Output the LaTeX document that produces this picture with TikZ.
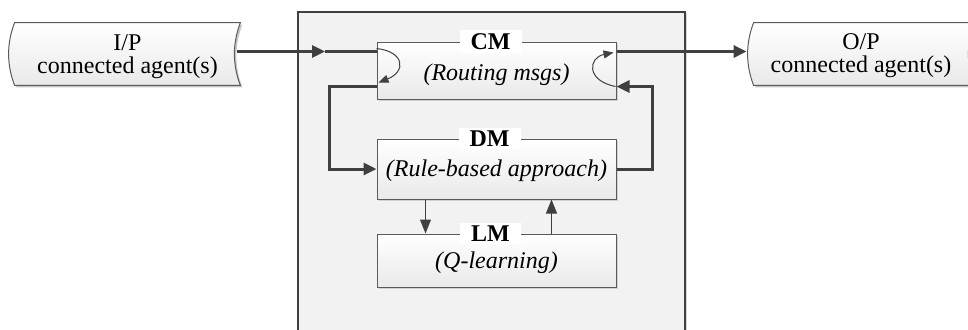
\documentclass[tikz,border=0pt]{standalone}
\usepackage{fontspec}
\setmainfont{Liberation Serif}
\usetikzlibrary{calc,arrows.meta,shadows}

\definecolor{linegray}{HTML}{404040}
\definecolor{panelgray}{HTML}{F2F2F2}
\definecolor{boxedge}{HTML}{5A5A5A}
\definecolor{boxlow}{HTML}{E9E9E9}

% stored-data outline: concave curves on both short sides
\newcommand\drawstoreddata[2]{%
  \path[#2] (#1.north west)
    .. controls ($(#1.north west)!0.333!(#1.south west)+(-8,0)$)
            and ($(#1.north west)!0.667!(#1.south west)+(-8,0)$) .. (#1.south west)
    -- (#1.south east)
    .. controls ($(#1.north east)!0.667!(#1.south east)+(-8,0)$)
            and ($(#1.north east)!0.333!(#1.south east)+(-8,0)$) .. (#1.north east)
    -- cycle;}

\begin{document}
\begin{tikzpicture}[x=0.5pt,y=-0.5pt,
  font=\fontsize{12}{11.5}\selectfont,
  panel/.style={rectangle, draw=linegray, line width=0.9pt, fill=panelgray,
    minimum width=193.5pt, minimum height=167pt, inner sep=0pt,
    drop shadow={shadow xshift=1pt, shadow yshift=-1pt, fill=black!25, opacity=0.6}},
  module/.style={rectangle, draw=boxedge, line width=0.5pt, top color=white,
    bottom color=boxlow, minimum width=119.5pt, inner sep=0pt,
    drop shadow={shadow xshift=1pt, shadow yshift=-1pt, fill=black!30, opacity=0.5}},
  agent/.style={rectangle, inner sep=0pt, minimum height=31pt},
  agenttext/.style={align=center, inner sep=0pt},
  title/.style={fill=white, font=\fontsize{12}{14}\selectfont\bfseries,
    inner xsep=5.5pt, inner ysep=1.5pt},
  body/.style={font=\fontsize{12}{14}\selectfont\itshape, inner sep=0pt},
  thickline/.style={draw=linegray, line width=1.5pt},
  thickarrow/.style={thickline, -{Triangle[length=6.5pt,width=6pt]}},
  thinarrow/.style={draw=linegray, line width=0.5pt, -{Triangle[length=7pt,width=5.5pt]}},
  looparrow/.style={draw=linegray, line width=0.5pt, -{Triangle[length=5pt,width=4pt]}},
]
\useasboundingbox (0,0) rectangle (968,329);
\clip (0,0) rectangle (968,329);

% agent containers
\node[agent, minimum width=112.5pt] (ip) at (127.5,54) {};
\node[agent, minimum width=110pt] (op) at (864,54) {};
\foreach \ag in {ip,op}{
  \drawstoreddata{\ag}{fill=black!22, transform canvas={xshift=1pt,yshift=-1pt}}
  \drawstoreddata{\ag}{draw=boxedge, line width=0.5pt, top color=white, bottom color=boxlow}
}
\node[agenttext] (iptext) at ($(ip.center)+(0,3)$) {I/P\\connected agent(s)};
\node[agenttext] (optext) at ($(op.center)+(-3,2)$) {O/P\\connected agent(s)};

% agent core panel
\node[panel] (core) at (491.5,179) {};

% modules
\node[module, minimum height=28.5pt] (cm) at (496.5,70.5) {};
\node[module, minimum height=30pt] (dm) at (496.5,169) {};
\node[module, minimum height=26.5pt] (lm) at (496.5,260.5) {};

\node[body] (cmtext) at ($(cm.center)+(0,4)$) {(Routing msgs)};
\node[body] (dmtext) at ($(dm.center)+(0,2)$) {(Rule-based approach)};
\node[body] (lmtext) at ($(lm.center)+(0,2)$) {(Q-learning)};

% input and output flows
\coordinate (cmin) at ($(cm.north west)+(0,10)$);
\coordinate (ipout) at ($(cmin -| ip.east)+(-3,0)$);
\coordinate (inmid) at ($(ipout)!0.63!(cmin)$);
\draw[thickarrow] (ipout) -- (inmid);
\draw[thickline] (inmid) -- (cmin);

\coordinate (cmout) at ($(cm.north east)+(0,10)$);
\coordinate (opin) at ($(cmout -| op.west)+(-7,0)$);
\draw[thickarrow] (cmout) -- (opin);

% routing loops inside CM
\draw[looparrow] ($(cm.north west)+(0,7)$) .. controls +(28,3) and +(28,-11) .. ($(cm.north west)+(2,41)$);
\draw[looparrow] ($(cm.south east)+(-1,-13)$) .. controls +(-30,-6) and +(-25,5) .. ($(cm.north east)+(-3,11)$);

% CM <-> DM loop
\draw[thickarrow] ($(cm.south west)+(0,-13)$) -- ++(-47,0) |- (dm.west);
\draw[thickarrow] (dm.east) -- ++(36,0) |- ($(cm.south east)+(0,-13)$);

% DM <-> LM
\draw[thinarrow] ($(dm.south west)+(49,0)$) -- ($(lm.north west)+(49,0)$);
\draw[thinarrow] ($(lm.north west)+(175,0)$) -- ($(dm.south west)+(175,0)$);

% module titles on the top edges
\node[title] (cmt) at ($(cm.north)+(-6,0)$) {CM};
\node[title] (dmt) at ($(dm.north)+(-7,0)$) {DM};
\node[title] (lmt) at ($(lm.north)+(-6,0)$) {LM};
\end{tikzpicture}
\end{document}
